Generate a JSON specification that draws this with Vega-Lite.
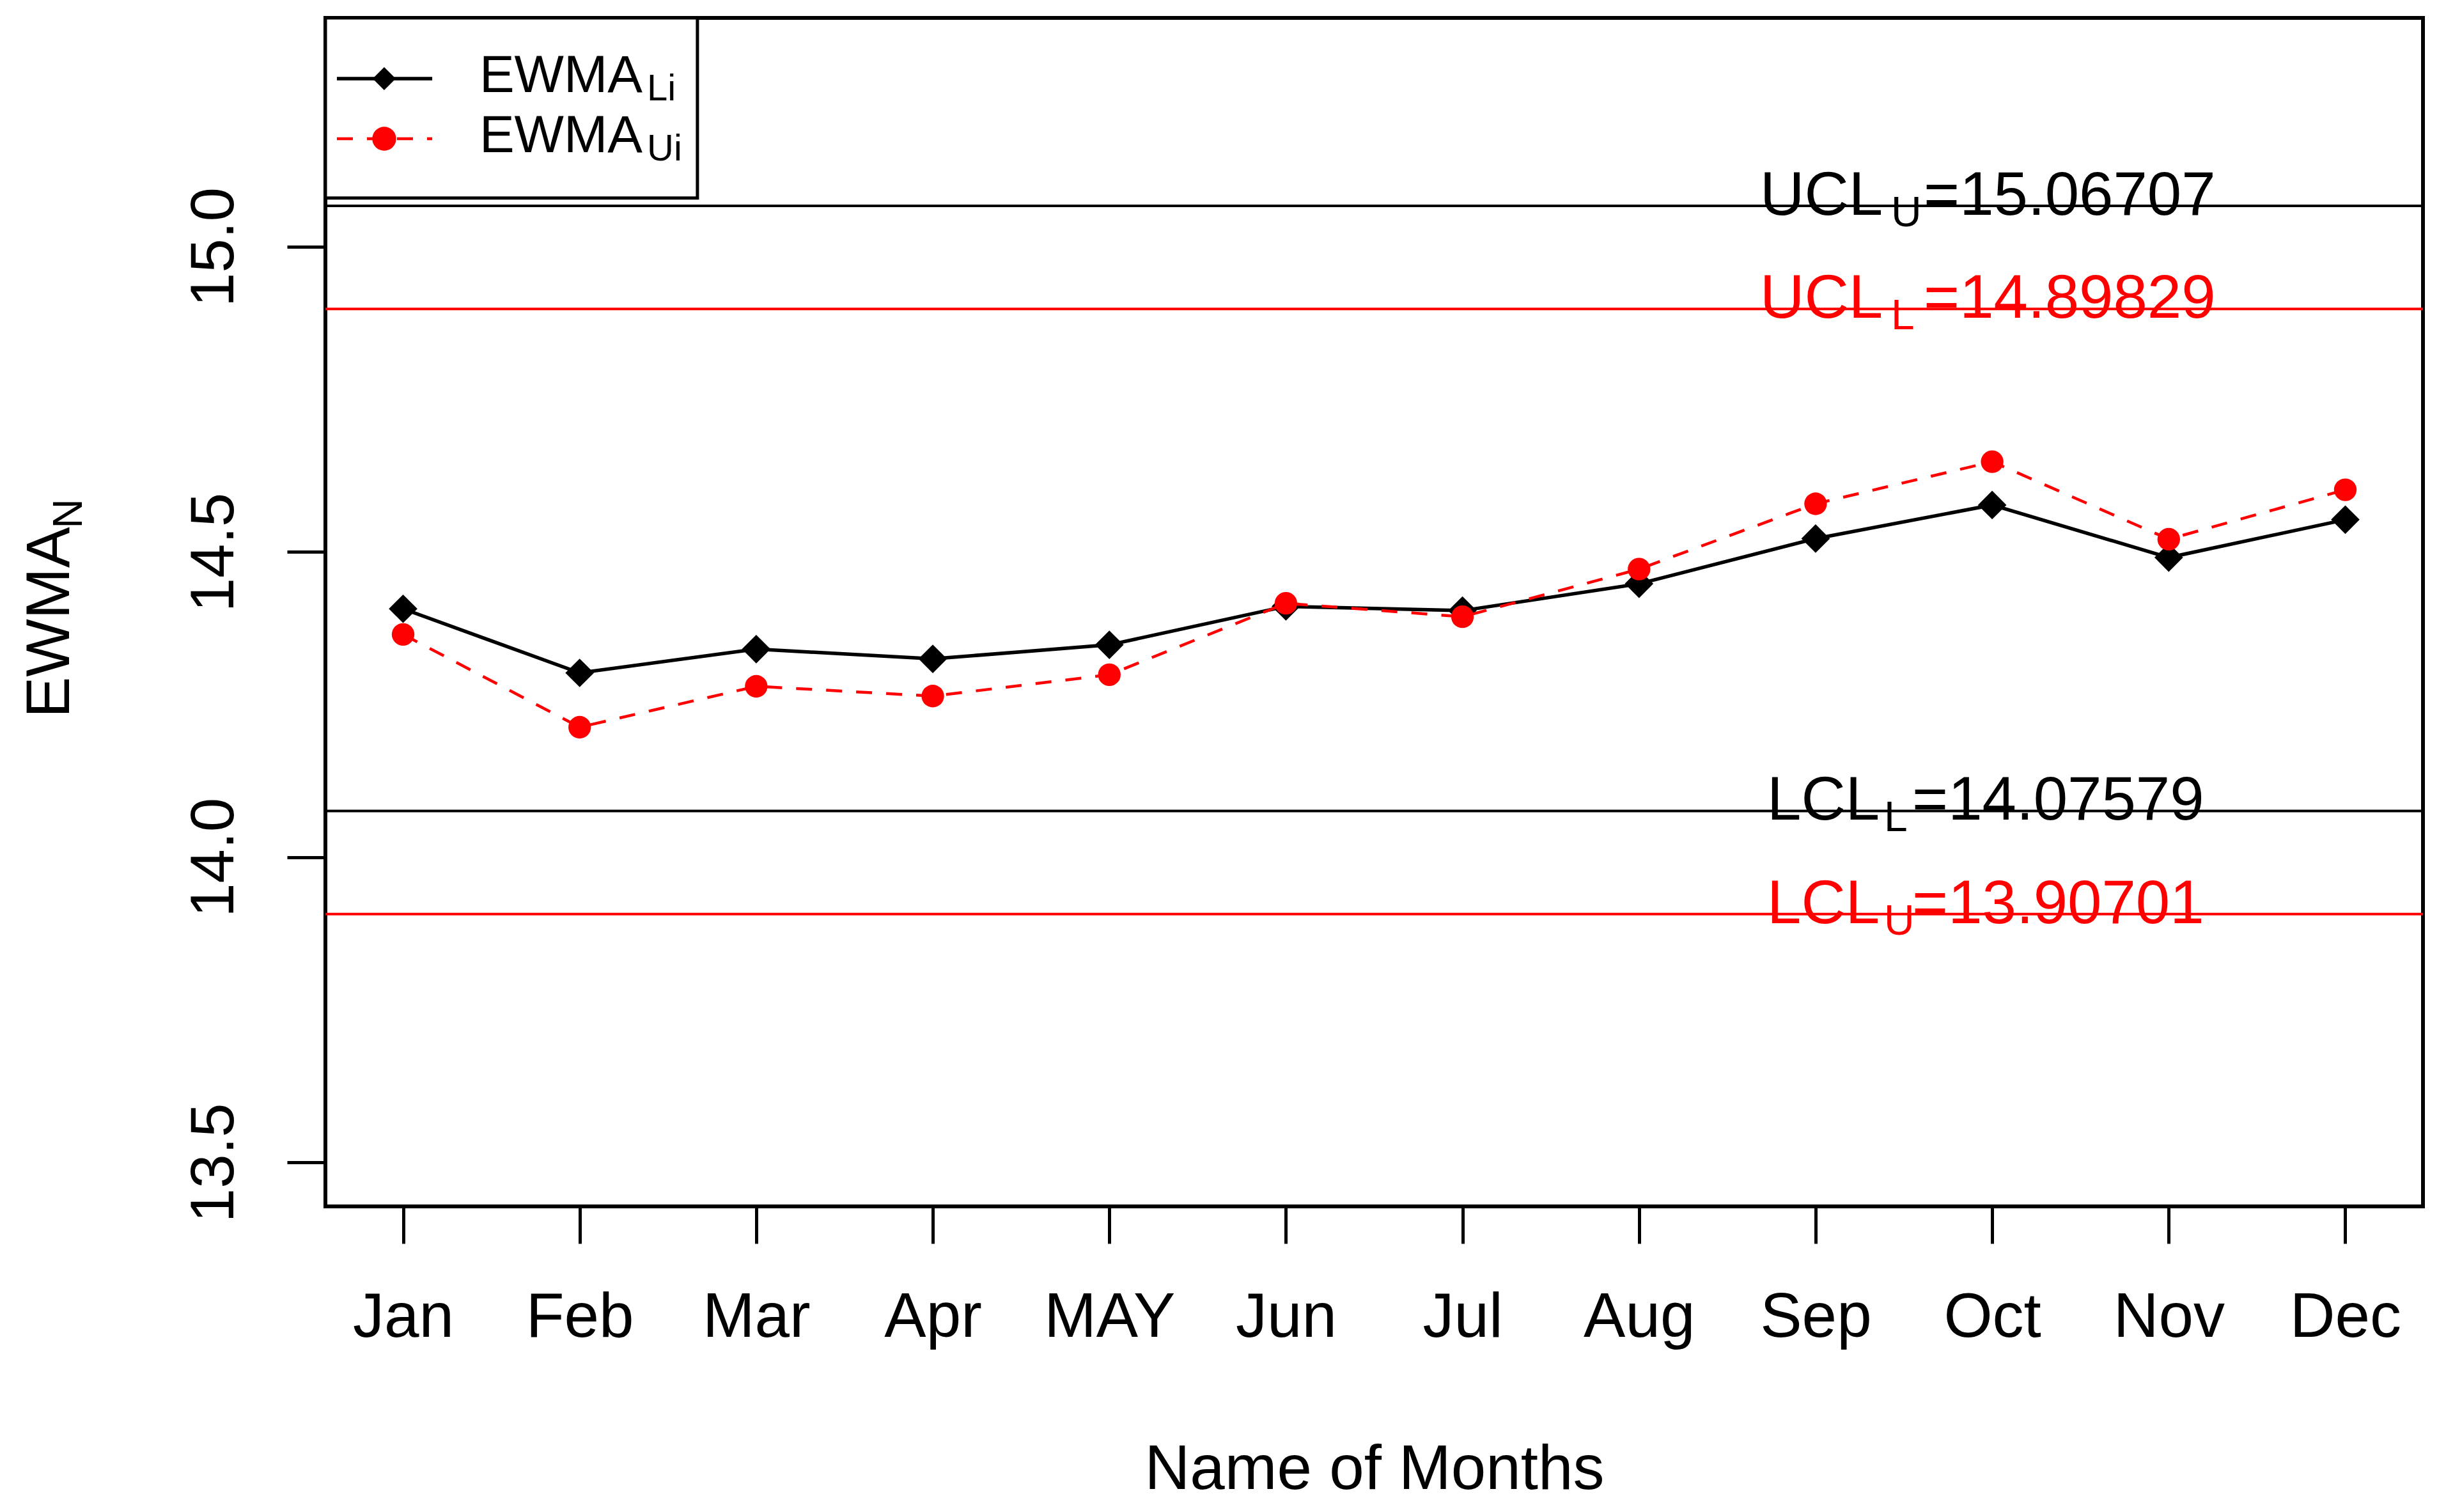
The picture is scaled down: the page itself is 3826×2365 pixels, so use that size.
{
  "$schema": "https://vega.github.io/schema/vega-lite/v6.json",
  "width": 3281,
  "height": 1859,
  "autosize": "none",
  "padding": {"left": 509, "top": 28, "right": 36, "bottom": 478},
  "background": "white",
  "datasets": {
    "ewma": [
      {"month": 1, "series": "Li", "value": 14.407},
      {"month": 2, "series": "Li", "value": 14.302},
      {"month": 3, "series": "Li", "value": 14.341},
      {"month": 4, "series": "Li", "value": 14.325},
      {"month": 5, "series": "Li", "value": 14.348},
      {"month": 6, "series": "Li", "value": 14.411},
      {"month": 7, "series": "Li", "value": 14.404},
      {"month": 8, "series": "Li", "value": 14.448},
      {"month": 9, "series": "Li", "value": 14.522},
      {"month": 10, "series": "Li", "value": 14.577},
      {"month": 11, "series": "Li", "value": 14.491},
      {"month": 12, "series": "Li", "value": 14.553},
      {"month": 1, "series": "Ui", "value": 14.365},
      {"month": 2, "series": "Ui", "value": 14.213},
      {"month": 3, "series": "Ui", "value": 14.280},
      {"month": 4, "series": "Ui", "value": 14.264},
      {"month": 5, "series": "Ui", "value": 14.299},
      {"month": 6, "series": "Ui", "value": 14.416},
      {"month": 7, "series": "Ui", "value": 14.394},
      {"month": 8, "series": "Ui", "value": 14.472},
      {"month": 9, "series": "Ui", "value": 14.579},
      {"month": 10, "series": "Ui", "value": 14.648},
      {"month": 11, "series": "Ui", "value": 14.521},
      {"month": 12, "series": "Ui", "value": 14.602}
    ],
    "limits": [
      {"name": "UCL", "sub": "U", "rest": "=15.06707", "value": 15.06707, "series": "Li"},
      {"name": "UCL", "sub": "L", "rest": "=14.89829", "value": 14.89829, "series": "Ui"},
      {"name": "LCL", "sub": "L", "rest": "=14.07579", "value": 14.07579, "series": "Li"},
      {"name": "LCL", "sub": "U", "rest": "=13.90701", "value": 13.90701, "series": "Ui"}
    ],
    "legend": [
      {"series": "Li", "main": "EWMA", "sub": "Li"},
      {"series": "Ui", "main": "EWMA", "sub": "Ui"}
    ]
  },
  "resolve": {"axis": {"x": "independent", "y": "independent"}},
  "layer": [
    {
      "data": {"name": "ewma"},
      "transform": [{"filter": "datum.series == 'Li'"}],
      "mark": {"type": "line", "color": "#000000", "strokeWidth": 5.5},
      "encoding": {
        "x": {"field": "month", "type": "quantitative", "title": "Name of Months",
              "scale": {"domain": [0.56, 12.44], "nice": false, "zero": false},
              "axis": {"orient": "bottom", "values": [1, 2, 3, 4, 5, 6, 7, 8, 9, 10, 11, 12],
                       "labelExpr": "['Jan','Feb','Mar','Apr','MAY','Jun','Jul','Aug','Sep','Oct','Nov','Dec'][datum.value - 1]",
                       "domain": false, "grid": false, "ticks": true, "labels": true, "tickSize": 58, "tickWidth": 5, "tickColor": "black",
                       "labelPadding": 145, "labelBaseline": "alphabetic", "labelFontSize": 98, "labelFont": "Liberation Sans", "labelColor": "black",
                       "labelOverlap": false, "labelFlush": false, "labelLimit": 1000,
                       "titleFontSize": 98, "titleFont": "Liberation Sans", "titleFontWeight": "normal", "titleColor": "black",
                       "titleY": 441, "titleBaseline": "alphabetic"}},
        "y": {"field": "value", "type": "quantitative", "title": "EWMA",
              "scale": {"domain": [13.428, 15.375], "nice": false, "zero": false},
              "axis": {"orient": "left", "values": [13.5, 14, 14.5, 15], "format": ".1f",
                       "domain": false, "grid": false, "tickSize": 60, "tickWidth": 5, "tickColor": "black",
                       "labelAngle": -90, "labelAlign": "center", "labelBaseline": "alphabetic", "labelPadding": 85, "labelLimit": 1000,
                       "labelFontSize": 96, "labelFont": "Liberation Sans", "labelColor": "black", "labelOverlap": false, "labelFlush": false,
                       "titleFontSize": 96, "titleFont": "Liberation Sans", "titleFontWeight": "normal", "titleColor": "black",
                       "titleX": -402, "titleY": 945, "titleAngle": -90, "titleAlign": "center", "titleBaseline": "alphabetic"}}
      }
    },
    {
      "data": {"name": "limits"},
      "mark": {"type": "rule", "strokeWidth": 4},
      "encoding": {
        "y": {"field": "value", "type": "quantitative",
              "scale": {"domain": [13.428, 15.375], "nice": false, "zero": false},
              "axis": {"orient": "left", "title": "N", "domain": false, "ticks": false, "labels": false, "grid": false,
                       "titleX": -382, "titleY": 775, "titleAngle": -90, "titleAlign": "center", "titleBaseline": "alphabetic",
                       "titleFontSize": 64, "titleFont": "Liberation Sans", "titleFontWeight": "normal", "titleColor": "black"}},
        "color": {"field": "series", "type": "nominal", "scale": {"domain": ["Li", "Ui"], "range": ["#000000", "#ff0000"]}, "legend": null}
      }
    },
    {
      "data": {"name": "limits"},
      "transform": [{"filter": "datum.name == 'UCL'"}],
      "mark": {"type": "text", "align": "right", "baseline": "alphabetic", "dx": -171, "dy": 14, "fontSize": 96, "font": "Liberation Sans"},
      "encoding": {
        "x": {"datum": 10, "type": "quantitative", "scale": {"domain": [0.56, 12.44], "nice": false, "zero": false}, "axis": null},
        "y": {"field": "value", "type": "quantitative", "scale": {"domain": [13.428, 15.375], "nice": false, "zero": false}, "axis": null},
        "text": {"field": "name"},
        "color": {"field": "series", "type": "nominal", "scale": {"domain": ["Li", "Ui"], "range": ["#000000", "#ff0000"]}, "legend": null}
      }
    },
    {
      "data": {"name": "limits"},
      "transform": [{"filter": "datum.name == 'UCL'"}],
      "mark": {"type": "text", "align": "left", "baseline": "alphabetic", "dx": -158, "dy": 32, "fontSize": 66, "font": "Liberation Sans"},
      "encoding": {
        "x": {"datum": 10, "type": "quantitative", "scale": {"domain": [0.56, 12.44], "nice": false, "zero": false}, "axis": null},
        "y": {"field": "value", "type": "quantitative", "scale": {"domain": [13.428, 15.375], "nice": false, "zero": false}, "axis": null},
        "text": {"field": "sub"},
        "color": {"field": "series", "type": "nominal", "scale": {"domain": ["Li", "Ui"], "range": ["#000000", "#ff0000"]}, "legend": null}
      }
    },
    {
      "data": {"name": "limits"},
      "transform": [{"filter": "datum.name == 'UCL'"}],
      "mark": {"type": "text", "align": "left", "baseline": "alphabetic", "dx": -107, "dy": 14, "fontSize": 96, "font": "Liberation Sans"},
      "encoding": {
        "x": {"datum": 10, "type": "quantitative", "scale": {"domain": [0.56, 12.44], "nice": false, "zero": false}, "axis": null},
        "y": {"field": "value", "type": "quantitative", "scale": {"domain": [13.428, 15.375], "nice": false, "zero": false}, "axis": null},
        "text": {"field": "rest"},
        "color": {"field": "series", "type": "nominal", "scale": {"domain": ["Li", "Ui"], "range": ["#000000", "#ff0000"]}, "legend": null}
      }
    },
    {
      "data": {"name": "limits"},
      "transform": [{"filter": "datum.name == 'LCL'"}],
      "mark": {"type": "text", "align": "right", "baseline": "alphabetic", "dx": -176, "dy": 14, "fontSize": 96, "font": "Liberation Sans"},
      "encoding": {
        "x": {"datum": 10, "type": "quantitative", "scale": {"domain": [0.56, 12.44], "nice": false, "zero": false}, "axis": null},
        "y": {"field": "value", "type": "quantitative", "scale": {"domain": [13.428, 15.375], "nice": false, "zero": false}, "axis": null},
        "text": {"field": "name"},
        "color": {"field": "series", "type": "nominal", "scale": {"domain": ["Li", "Ui"], "range": ["#000000", "#ff0000"]}, "legend": null}
      }
    },
    {
      "data": {"name": "limits"},
      "transform": [{"filter": "datum.name == 'LCL'"}],
      "mark": {"type": "text", "align": "left", "baseline": "alphabetic", "dx": -169, "dy": 32, "fontSize": 66, "font": "Liberation Sans"},
      "encoding": {
        "x": {"datum": 10, "type": "quantitative", "scale": {"domain": [0.56, 12.44], "nice": false, "zero": false}, "axis": null},
        "y": {"field": "value", "type": "quantitative", "scale": {"domain": [13.428, 15.375], "nice": false, "zero": false}, "axis": null},
        "text": {"field": "sub"},
        "color": {"field": "series", "type": "nominal", "scale": {"domain": ["Li", "Ui"], "range": ["#000000", "#ff0000"]}, "legend": null}
      }
    },
    {
      "data": {"name": "limits"},
      "transform": [{"filter": "datum.name == 'LCL'"}],
      "mark": {"type": "text", "align": "left", "baseline": "alphabetic", "dx": -125, "dy": 14, "fontSize": 96, "font": "Liberation Sans"},
      "encoding": {
        "x": {"datum": 10, "type": "quantitative", "scale": {"domain": [0.56, 12.44], "nice": false, "zero": false}, "axis": null},
        "y": {"field": "value", "type": "quantitative", "scale": {"domain": [13.428, 15.375], "nice": false, "zero": false}, "axis": null},
        "text": {"field": "rest"},
        "color": {"field": "series", "type": "nominal", "scale": {"domain": ["Li", "Ui"], "range": ["#000000", "#ff0000"]}, "legend": null}
      }
    },
    {
      "data": {"name": "ewma"},
      "transform": [{"filter": "datum.series == 'Li'"}],
      "mark": {"type": "point", "shape": "diamond", "filled": true, "color": "#000000", "size": 2000, "opacity": 1},
      "encoding": {
        "x": {"field": "month", "type": "quantitative", "scale": {"domain": [0.56, 12.44], "nice": false, "zero": false}, "axis": null},
        "y": {"field": "value", "type": "quantitative", "scale": {"domain": [13.428, 15.375], "nice": false, "zero": false}, "axis": null}
      }
    },
    {
      "data": {"name": "ewma"},
      "transform": [{"filter": "datum.series == 'Ui'"}],
      "mark": {"type": "line", "color": "#ff0000", "strokeWidth": 4.5, "strokeDash": [25, 22]},
      "encoding": {
        "x": {"field": "month", "type": "quantitative", "scale": {"domain": [0.56, 12.44], "nice": false, "zero": false}, "axis": null},
        "y": {"field": "value", "type": "quantitative", "scale": {"domain": [13.428, 15.375], "nice": false, "zero": false}, "axis": null}
      }
    },
    {
      "data": {"name": "ewma"},
      "transform": [{"filter": "datum.series == 'Ui'"}],
      "mark": {"type": "point", "shape": "circle", "filled": true, "color": "#ff0000", "size": 1250, "opacity": 1},
      "encoding": {
        "x": {"field": "month", "type": "quantitative", "scale": {"domain": [0.56, 12.44], "nice": false, "zero": false}, "axis": null},
        "y": {"field": "value", "type": "quantitative", "scale": {"domain": [13.428, 15.375], "nice": false, "zero": false}, "axis": null}
      }
    },
    {
      "data": {"name": "legend"},
      "transform": [{"filter": "datum.series == 'Li'"}],
      "mark": {"type": "rect", "fill": "white", "stroke": "black", "strokeWidth": 5},
      "encoding": {
        "x": {"datum": 0.56, "type": "quantitative", "scale": {"domain": [0.56, 12.44], "nice": false, "zero": false}, "axis": null},
        "x2": {"datum": 2.667},
        "y": {"datum": 15.375, "type": "quantitative", "scale": {"domain": [13.428, 15.375], "nice": false, "zero": false}, "axis": null},
        "y2": {"datum": 15.080}
      }
    },
    {
      "data": {"name": "legend"},
      "transform": [{"filter": "datum.series == 'Li'"}],
      "mark": {"type": "rule", "color": "#000000", "strokeWidth": 5.5},
      "encoding": {
        "x": {"datum": 0.625, "type": "quantitative", "scale": {"domain": [0.56, 12.44], "nice": false, "zero": false}, "axis": null},
        "x2": {"datum": 1.165},
        "y": {"datum": 15.2755, "type": "quantitative", "scale": {"domain": [13.428, 15.375], "nice": false, "zero": false}, "axis": null}
      }
    },
    {
      "data": {"name": "legend"},
      "transform": [{"filter": "datum.series == 'Li'"}],
      "mark": {"type": "point", "shape": "diamond", "filled": true, "color": "#000000", "size": 1300, "opacity": 1},
      "encoding": {
        "x": {"datum": 0.893, "type": "quantitative", "scale": {"domain": [0.56, 12.44], "nice": false, "zero": false}, "axis": null},
        "y": {"datum": 15.2755, "type": "quantitative", "scale": {"domain": [13.428, 15.375], "nice": false, "zero": false}, "axis": null}
      }
    },
    {
      "data": {"name": "legend"},
      "transform": [{"filter": "datum.series == 'Ui'"}],
      "mark": {"type": "rule", "color": "#ff0000", "strokeWidth": 4.5, "strokeDash": [25, 22]},
      "encoding": {
        "x": {"datum": 0.625, "type": "quantitative", "scale": {"domain": [0.56, 12.44], "nice": false, "zero": false}, "axis": null},
        "x2": {"datum": 1.165},
        "y": {"datum": 15.177, "type": "quantitative", "scale": {"domain": [13.428, 15.375], "nice": false, "zero": false}, "axis": null}
      }
    },
    {
      "data": {"name": "legend"},
      "transform": [{"filter": "datum.series == 'Ui'"}],
      "mark": {"type": "point", "shape": "circle", "filled": true, "color": "#ff0000", "size": 1400, "opacity": 1},
      "encoding": {
        "x": {"datum": 0.893, "type": "quantitative", "scale": {"domain": [0.56, 12.44], "nice": false, "zero": false}, "axis": null},
        "y": {"datum": 15.177, "type": "quantitative", "scale": {"domain": [13.428, 15.375], "nice": false, "zero": false}, "axis": null}
      }
    },
    {
      "data": {"name": "legend"},
      "transform": [{"filter": "datum.series == 'Li'"}],
      "mark": {"type": "text", "align": "right", "baseline": "alphabetic", "dy": 21, "fontSize": 82, "font": "Liberation Sans", "color": "black"},
      "encoding": {
        "x": {"datum": 2.356, "type": "quantitative", "scale": {"domain": [0.56, 12.44], "nice": false, "zero": false}, "axis": null},
        "y": {"datum": 15.2755, "type": "quantitative", "scale": {"domain": [13.428, 15.375], "nice": false, "zero": false}, "axis": null},
        "text": {"field": "main"}
      }
    },
    {
      "data": {"name": "legend"},
      "transform": [{"filter": "datum.series == 'Li'"}],
      "mark": {"type": "text", "align": "left", "baseline": "alphabetic", "dx": 7, "dy": 34, "fontSize": 58, "font": "Liberation Sans", "color": "black"},
      "encoding": {
        "x": {"datum": 2.356, "type": "quantitative", "scale": {"domain": [0.56, 12.44], "nice": false, "zero": false}, "axis": null},
        "y": {"datum": 15.2755, "type": "quantitative", "scale": {"domain": [13.428, 15.375], "nice": false, "zero": false}, "axis": null},
        "text": {"field": "sub"}
      }
    },
    {
      "data": {"name": "legend"},
      "transform": [{"filter": "datum.series == 'Ui'"}],
      "mark": {"type": "text", "align": "right", "baseline": "alphabetic", "dy": 21, "fontSize": 82, "font": "Liberation Sans", "color": "black"},
      "encoding": {
        "x": {"datum": 2.356, "type": "quantitative", "scale": {"domain": [0.56, 12.44], "nice": false, "zero": false}, "axis": null},
        "y": {"datum": 15.177, "type": "quantitative", "scale": {"domain": [13.428, 15.375], "nice": false, "zero": false}, "axis": null},
        "text": {"field": "main"}
      }
    },
    {
      "data": {"name": "legend"},
      "transform": [{"filter": "datum.series == 'Ui'"}],
      "mark": {"type": "text", "align": "left", "baseline": "alphabetic", "dx": 7, "dy": 34, "fontSize": 58, "font": "Liberation Sans", "color": "black"},
      "encoding": {
        "x": {"datum": 2.356, "type": "quantitative", "scale": {"domain": [0.56, 12.44], "nice": false, "zero": false}, "axis": null},
        "y": {"datum": 15.177, "type": "quantitative", "scale": {"domain": [13.428, 15.375], "nice": false, "zero": false}, "axis": null},
        "text": {"field": "sub"}
      }
    }
  ],
  "config": {
    "view": {"stroke": "black", "strokeWidth": 6, "fill": "white"},
    "font": "Liberation Sans",
    "text": {"font": "Liberation Sans"}
  }
}
